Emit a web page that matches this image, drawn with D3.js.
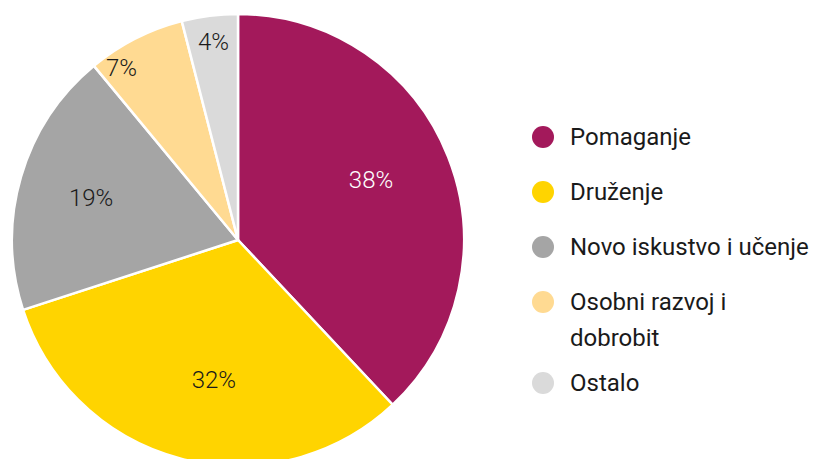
<!DOCTYPE html>
<html><head><meta charset="utf-8">
<script src="https://cdn.jsdelivr.net/npm/d3@7"></script>
<style>body{margin:0;background:#fff}svg{display:block}</style>
</head><body>
<script>
const categories = ["Pomaganje", "Druženje", "Novo iskustvo i učenje", "Osobni razvoj i dobrobit", "Ostalo"];
const legendLines = [["Pomaganje"], ["Druženje"], ["Novo iskustvo i učenje"], ["Osobni razvoj i", "dobrobit"], ["Ostalo"]];
const values = [38, 32, 19, 7, 4];
const colors = ["#A3195B", "#FFD400", "#A5A5A5", "#FFDA92", "#DADADA"];
const labelColors = ["#ffffff", "#1a1a1a", "#1a1a1a", "#1a1a1a", "#1a1a1a"];

// label placement (layout): radial factor and angular fraction within slice
const labelRadius = [0.646, 0.628, 0.677, 0.92, 0.885];
const labelFrac = [0.48, 0.46, 0.5, 0.22, 0.51];

const W = 814, H = 459, cx = 238, cy = 240, R = 226;
const font = "Roboto, 'Noto Sans', sans-serif";
const svg = d3.select("body").append("svg").attr("width", W).attr("height", H);
const g = svg.append("g").attr("transform", `translate(${cx},${cy})`);
const pie = d3.pie().sort(null).value(d => d)(values);
const arc = d3.arc().innerRadius(0).outerRadius(R);
g.selectAll("path").data(pie).join("path")
  .attr("d", arc).attr("fill", (d, i) => colors[i])
  .attr("stroke", "#fff").attr("stroke-width", 2.5).attr("stroke-linejoin", "round");
g.selectAll("text").data(pie).join("text")
  .attr("transform", (d, i) => {
    const a = d.startAngle + labelFrac[i] * (d.endAngle - d.startAngle);
    const r = labelRadius[i] * R;
    return `translate(${r * Math.sin(a)},${-r * Math.cos(a)})`;
  })
  .attr("text-anchor", "middle").attr("dy", "0.35em")
  .attr("font-family", font).attr("font-weight", 300).attr("font-size", 24)
  .attr("fill", (d, i) => labelColors[i])
  .text(d => d.value + "%");

const lg = svg.append("g");
let y = 137;
legendLines.forEach((lines, i) => {
  lg.append("circle").attr("cx", 543).attr("cy", y).attr("r", 11).attr("fill", colors[i]);
  const t = lg.append("text").attr("x", 570).attr("y", y)
    .attr("font-family", font).attr("font-weight", 400).attr("font-size", 24).attr("fill", "#1a1a1a");
  lines.forEach((l, j) => t.append("tspan").attr("x", 570).attr("dy", j === 0 ? "0.35em" : 36).text(l));
  y += 55 + (lines.length - 1) * 26;
});
</script>
</body></html>
